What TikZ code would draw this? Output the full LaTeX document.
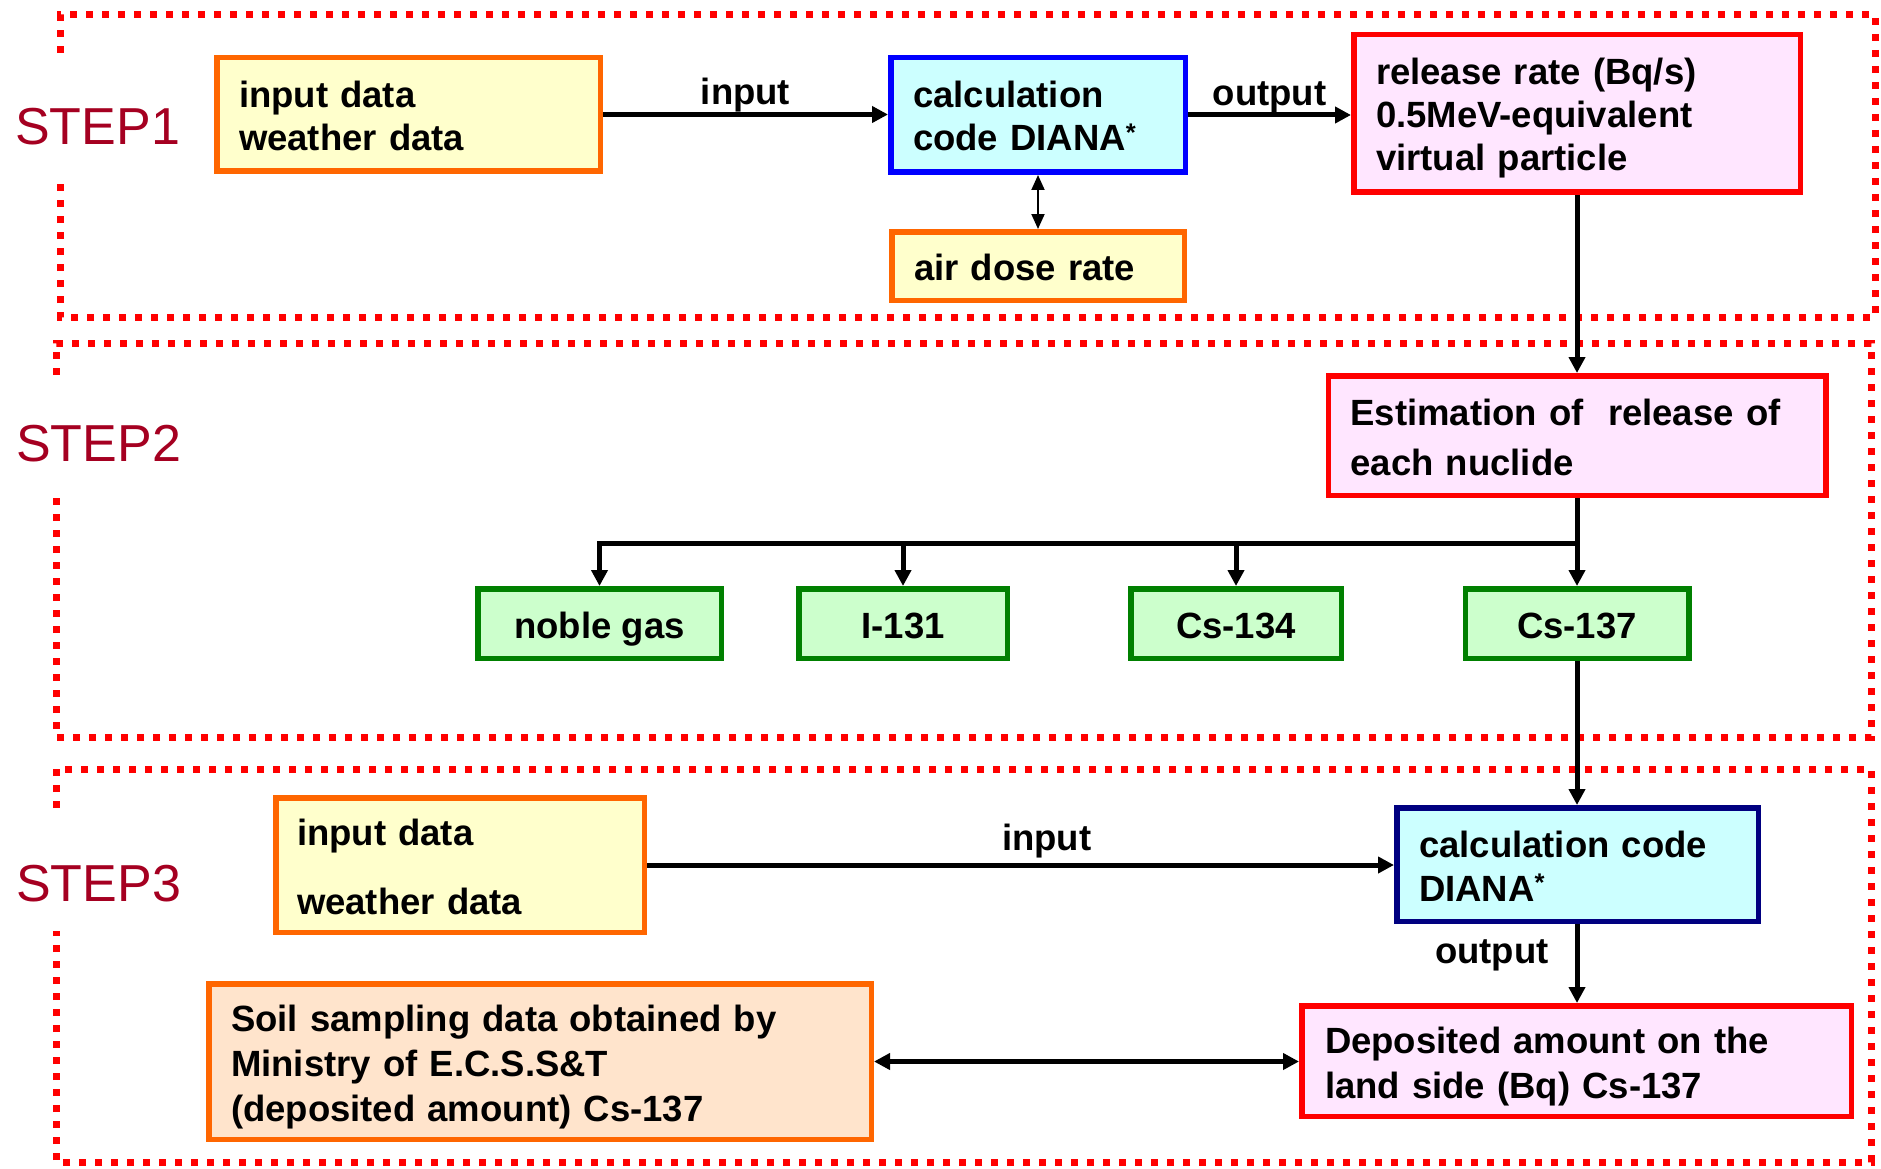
\documentclass[tikz,border=0pt]{standalone}
\usepackage{fontspec}
\setmainfont{Liberation Sans}
\usetikzlibrary{arrows.meta}
\definecolor{orng}{HTML}{FF6600}
\definecolor{yelf}{HTML}{FFFFCC}
\definecolor{cyanf}{HTML}{CCFFFF}
\definecolor{blu}{HTML}{0000FF}
\definecolor{navy}{HTML}{000080}
\definecolor{pinkf}{HTML}{FFE6FF}
\definecolor{redb}{HTML}{FF0000}
\definecolor{grn}{HTML}{008000}
\definecolor{grnf}{HTML}{CCFFCC}
\definecolor{peachf}{HTML}{FFE4CC}
\definecolor{stepred}{HTML}{A50021}
\newcommand\topS{\rule{0pt}{38pt}}
\newcommand\botS{\rule[-9pt]{0pt}{9pt}}
\tikzset{
  box/.style={draw, line width=5.5pt, inner xsep=22.25pt, inner ysep=0pt, align=left,
    font=\bfseries\fontsize{36.5}{43}\selectfont},
  yelbox/.style={box, draw=orng, fill=yelf},
  calcbox/.style={box, draw=blu, fill=cyanf},
  navybox/.style={box, draw=navy, fill=cyanf},
  pinkbox/.style={box, draw=redb, fill=pinkf},
  peachbox/.style={box, draw=orng, fill=peachf},
  greenbox/.style={draw=grn, fill=grnf, line width=5.5pt, inner sep=0pt, align=center,
    minimum height=69.5pt, font=\bfseries\fontsize{36.5}{43}\selectfont},
  lbl/.style={inner sep=0pt, font=\bfseries\fontsize{36.5}{43}\selectfont},
  steplbl/.style={inner sep=0pt, text=stepred, font=\fontsize{52}{60}\selectfont},
  stepframe/.style={draw=redb, line width=7pt, dash pattern=on 7pt off 9pt},
  conn/.style={line width=5pt},
  arr/.style={conn, -{Triangle[length=16pt,width=16pt]}},
  dblarr/.style={conn, {Triangle[length=16pt,width=16pt]}-{Triangle[length=16pt,width=16pt]}},
  thinarr/.style={line width=2pt, {Triangle[length=15pt,width=13pt]}-{Triangle[length=15pt,width=13pt]}}
}
\begin{document}
\begin{tikzpicture}[x=1pt,y=-1pt]
\useasboundingbox[fill=white] (0,0) rectangle (1881,1169);

% step frames
\draw[stepframe] (60,53) -- (60,15) -- (1875,15) -- (1875,317) -- (60,317) -- (60,175);
\draw[stepframe] (56,375) -- (56,343) -- (1871,343) -- (1871,737) -- (56,737) -- (56,493);
\draw[stepframe] (56,808) -- (56,769) -- (1871,769) -- (1871,1162) -- (56,1162) -- (56,931);

\node[steplbl, anchor=west] (s1) at (15,127) {STEP1};
\node[steplbl, anchor=west] (s2) at (16,444) {STEP2};
\node[steplbl, anchor=west] (s3) at (16,884) {STEP3};

% STEP1
\node[yelbox, minimum width=383.5pt, minimum height=113.5pt, text width=339pt] (A) at (408.5,114.5) {\topS input data\\weather data\botS};
\node[calcbox, minimum width=294.5pt, minimum height=114.5pt, text width=250pt] (B) at (1038,115) {\topS calculation\\code DIANA\textsuperscript{*}\botS};
\node[pinkbox, minimum width=446.5pt, minimum height=157.5pt, text width=402pt] (C) at (1577,113.5) {\topS release rate (Bq/s)\\0.5MeV-equivalent\\virtual particle\botS};
\node[yelbox, minimum width=292.5pt, minimum height=68.5pt, text width=248pt] (D) at (1038,266) {\topS air dose rate\botS};

% STEP2
\node[pinkbox, minimum width=497.5pt, minimum height=119.5pt, text width=453pt, font=\bfseries\fontsize{36.5}{50}\selectfont] (E) at (1577,435.5) {\topS Estimation of~~release of\\each nuclide\botS};
\node[greenbox, minimum width=243.5pt] (ng) at (599.5,623.5) {\topS noble gas\botS};
\node[greenbox, minimum width=208.5pt] (i131) at (903,623.5) {\topS I-131\botS};
\node[greenbox, minimum width=210.5pt] (cs134) at (1236,623.5) {\topS Cs-134\botS};
\node[greenbox, minimum width=223.5pt] (cs137) at (1577,623.5) {\topS Cs-137\botS};

% STEP3
\node[navybox, minimum width=361.5pt, minimum height=113.5pt, text width=317pt, font=\bfseries\fontsize{36.5}{44}\selectfont] (F) at (1577.5,864.5) {\topS calculation code\\DIANA\textsuperscript{*}\botS};
\node[yelbox, minimum width=368.5pt, minimum height=134.5pt, text width=326pt, inner xsep=21.25pt, font=\bfseries\fontsize{36.5}{69}\selectfont] (G) at (460,865) {\topS input data\\weather data\botS};
\node[pinkbox, minimum width=549.5pt, minimum height=110.5pt, text width=503pt, inner xsep=23.25pt, font=\bfseries\fontsize{36.5}{45}\selectfont] (H) at (1576.5,1061) {\topS Deposited amount on the\\land side (Bq) Cs-137\botS};
\node[peachbox, minimum width=662.5pt, minimum height=155.5pt, text width=618pt, font=\bfseries\fontsize{36.5}{45}\selectfont] (I) at (540,1061.5) {\topS Soil sampling data obtained by\\Ministry of E.C.S.S\&T\\(deposited amount) Cs-137\botS};

% connectors
\draw[arr] (A.east) -- (A.east -| B.west) node[lbl, midway, above=-0.5pt] {input};
\draw[arr] (B.east) -- (B.east -| C.west) node[lbl, midway, above=-0.5pt] {output};
\draw[thinarr] (B.south) -- (D.north);
\draw[arr] (C.south) -- (C.south |- E.north);
\coordinate (j) at (1577,543);
\draw[conn] (E.south) -- (j);
\draw[arr] (j) -- (cs137.north);
\draw[arr] (j) -| (ng.north);
\draw[arr] (j -| i131.north) -- (i131.north);
\draw[arr] (j -| cs134.north) -- (cs134.north);
\draw[arr] (cs137.south) -- (cs137.south |- F.north);
\draw[arr] (G.east) -- (G.east -| F.west) node[lbl, pos=0.535, above=4pt] {input};
\draw[arr] (F.south -| cs137.south) -- (cs137.south |- H.north) node[lbl, midway, left=26pt, yshift=8pt] {output};
\draw[dblarr] (I.east) -- (I.east -| H.west);
\end{tikzpicture}
\end{document}
